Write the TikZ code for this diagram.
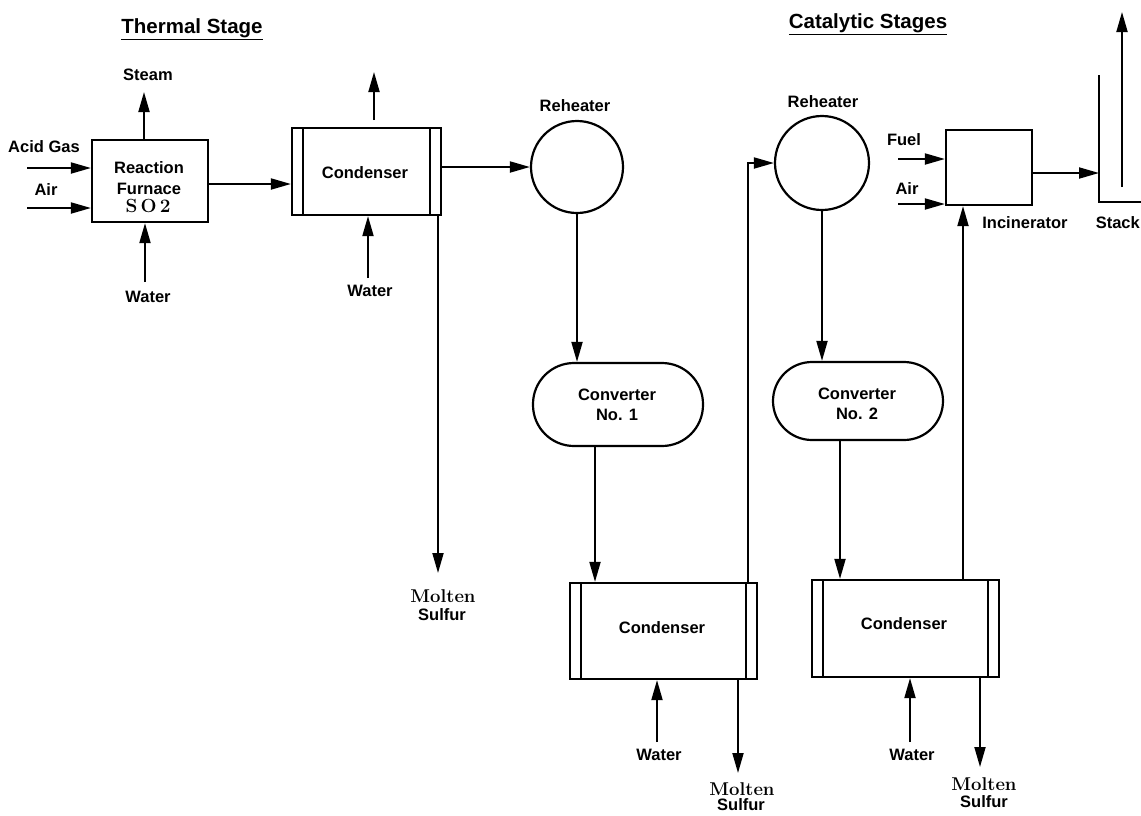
\documentclass[tikz,border=0pt]{standalone}
\usepackage{fontspec}
\newfontfamily\hv{Liberation Sans}
\usetikzlibrary{arrows.meta,calc}
\begin{document}
\begin{tikzpicture}[x=1pt,y=-1pt,
  lbl/.style={font=\hv\bfseries\fontsize{16.5}{20.5}\selectfont, inner sep=0pt, align=center},
  ttl/.style={font=\hv\bfseries\fontsize{20.5}{22}\selectfont, inner sep=0pt},
  ser/.style={font=\bfseries\fontsize{18.5}{18.5}\selectfont, inner sep=0pt},
  box/.style={draw, line width=2.2pt, inner sep=0pt},
  cond/.style={box, path picture={
      \draw[line width=1.8pt] ([xshift=11pt]path picture bounding box.north west) -- ([xshift=11pt]path picture bounding box.south west);
      \draw[line width=1.8pt] ([xshift=-11pt]path picture bounding box.north east) -- ([xshift=-11pt]path picture bounding box.south east);}},
  ln/.style={line width=1.9pt},
  arr/.style={ln, -{Triangle[length=20pt,width=11pt]}}]
\useasboundingbox (0,0) rectangle (1141,815);

% titles
\node[ttl] (t1) at (192,29) {\underline{Thermal Stage}};
\node[ttl] (t2) at (868,24) {\underline{Catalytic Stages}};

% main units
\node[box, minimum width=116pt, minimum height=82pt] (rf) at (150,181) {};
\node[lbl] (rft) at (149,178) {Reaction\\Furnace};
\node[font=\bfseries\fontsize{19}{19}\selectfont, inner sep=0pt] (so2) at (148,206) {S\,O\,2};
\node[cond, minimum width=149pt, minimum height=87pt] (c1) at (366.5,171.5) {};
\node[lbl] (c1t) at (365,173) {Condenser};
\node[draw, circle, line width=2.2pt, minimum size=92pt, inner sep=0pt] (rh1) at (577,167) {};
\node[lbl] (rh1t) at (575,106) {Reheater};
\node[box, rounded corners=41pt, minimum width=170pt, minimum height=83pt] (cv1) at (618,404.5) {};
\node[lbl] (cv1t) at (617,405) {Converter\\No. 1};
\node[cond, minimum width=187pt, minimum height=96pt] (c2) at (663.5,631) {};
\node[lbl] (c2t) at (662,628) {Condenser};
\node[draw, circle, line width=2.2pt, minimum size=94pt, inner sep=0pt] (rh2) at (822,163) {};
\node[lbl] (rh2t) at (823,102) {Reheater};
\node[box, rounded corners=39pt, minimum width=170pt, minimum height=78pt] (cv2) at (858,401) {};
\node[lbl] (cv2t) at (857,404) {Converter\\No. 2};
\node[cond, minimum width=187pt, minimum height=97pt] (c3) at (905.5,628.5) {};
\node[lbl] (c3t) at (904,624) {Condenser};
\node[box, minimum width=86pt, minimum height=75pt] (inc) at (989,167.5) {};
\node[lbl] (inct) at (1025,223) {Incinerator};

% stack
\draw[ln] (1099,75) -- (1099,202) -- (1141,202);
\node[lbl, anchor=east] (stkt) at (1140,223) {Stack};

% labels
\node[lbl] (steamt) at (148,75) {Steam};
\node[lbl] (agt) at (44,147) {Acid Gas};
\node[lbl] (air1t) at (46,190) {Air};
\node[lbl] (w1t) at (148,297) {Water};
\node[lbl] (w2t) at (370,291) {Water};
\node[lbl] (w3t) at (659,755) {Water};
\node[lbl] (w4t) at (912,755) {Water};
\node[lbl] (fuelt) at (904,140) {Fuel};
\node[lbl] (air2t) at (907,189) {Air};
\node[ser] (m1a) at (443,596) {Molten};
\node[lbl] (m1b) at (442,615) {Sulfur};
\node[ser] (m2a) at (742,789) {Molten};
\node[lbl] (m2b) at (741,805) {Sulfur};
\node[ser] (m3a) at (984,784) {Molten};
\node[lbl] (m3b) at (984,802) {Sulfur};

% coordinates for free ends
\coordinate (agin) at (27,168);
\coordinate (airin) at (27,208);
\coordinate (steamtop) at (144,92);
\coordinate (w1in) at (145,282);
\coordinate (f1) at (0,184);
\coordinate (c1gas) at (374,120);
\coordinate (c1vent) at (374,72);
\coordinate (w2in) at (368,278);
\coordinate (ms1) at (438,573);
\coordinate (x1) at (595,0);
\coordinate (w3in) at (657,742);
\coordinate (ms2) at (738,773);
\coordinate (up1) at (748,0);
\coordinate (x2) at (840,0);
\coordinate (w4in) at (910,742);
\coordinate (ms3) at (980,767);
\coordinate (x3) at (963,0);
\coordinate (fuelin) at (898,159);
\coordinate (air2in) at (898,204);
\coordinate (stk) at (1099,173);
\coordinate (s1) at (1122,187);
\coordinate (s2) at (1122,12);

% connectors
\draw[arr] (agin) -- (agin -| rf.west);
\draw[arr] (airin) -- (airin -| rf.west);
\draw[arr] (steamtop |- rf.north) -- (steamtop);
\draw[arr] (w1in) -- (w1in |- rf.south);
\draw[arr] (rf.east |- f1) -- (c1.west |- f1);
\draw[arr] (c1gas) -- (c1vent);
\draw[arr] (w2in) -- (w2in |- c1.south);
\draw[arr] (c1.east |- rh1.west) -- (rh1.west);
\draw[arr] (ms1 |- c1.south) -- (ms1);
\draw[arr] (rh1.south) -- (rh1.south |- cv1.north);
\draw[arr] (cv1.south -| x1) -- (c2.north -| x1);
\draw[arr] (w3in) -- (w3in |- c2.south);
\draw[arr] (ms2 |- c2.south) -- (ms2);
\draw[arr] (c2.north -| up1) |- (rh2.west);
\draw[arr] (rh2.south) -- (rh2.south |- cv2.north);
\draw[arr] (cv2.south -| x2) -- (c3.north -| x2);
\draw[arr] (w4in) -- (w4in |- c3.south);
\draw[arr] (ms3 |- c3.south) -- (ms3);
\draw[arr] (c3.north -| x3) -- (inc.south -| x3);
\draw[arr] (fuelin) -- (fuelin -| inc.west);
\draw[arr] (air2in) -- (air2in -| inc.west);
\draw[arr] (inc.east |- stk) -- (stk);
\draw[arr] (s1) -- (s2);
\end{tikzpicture}
\end{document}
